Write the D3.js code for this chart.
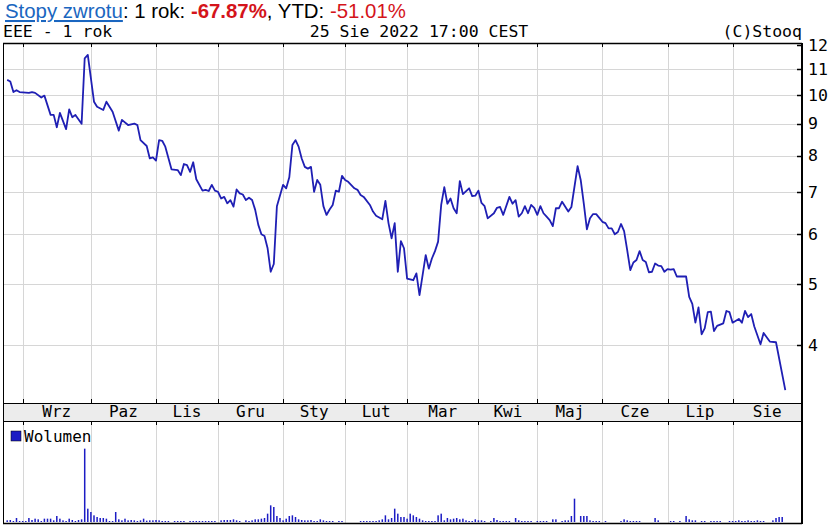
<!DOCTYPE html>
<html>
<head>
<meta charset="utf-8">
<script src="https://cdn.jsdelivr.net/npm/d3@7"></script>
<style>
  body { margin: 0; background: #fff; }
  .mono { font-family: "DejaVu Sans Mono", monospace; }
  .grid { stroke: #d6d6d6; stroke-width: 1; }
  .frame { stroke: #000; fill: none; }
</style>
</head>
<body>
<div id="chart"></div>
<script>
// trading-day index (0 = 25 Aug 2021 ... 251 = 25 Aug 2022) and close price
const priceDays = [0,1,2,3,4,7,8,9,11,12,14,15,16,17,19,20,21,22,24,25,26,28,29,31,32,34,36,37,39,41,42,43,45,46,47,48,49,50,51,53,55,56,57,58,59,60,61,63,64,65,66,67,68,69,70,71,72,73,74,75,76,77,78,79,80,81,82,83,84,85,86,87,89,90,91,92,93,94,95,96,97,98,99,100,101,102,103,104,105,106,107,108,109,110,112,113,114,115,117,118,119,121,122,123,124,125,126,127,128,129,131,132,133,135,136,137,138,139,140,141,142,143,144,145,146,147,149,150,151,152,153,154,155,157,158,159,160,162,163,164,165,166,167,168,169,170,171,172,173,174,175,176,177,178,179,181,182,184,185,186,187,188,189,190,191,192,193,194,195,196,197,198,199,200,201,202,203,204,205,206,207,208,209,210,211,212,213,214,215,216,218,219,220,221,222,223,224,225,226,227,228,229,231,232,233,234,236,237,238,239,240,241,243,244,246,248,251];
const priceCloses = [10.56,10.5,10.1,10.17,10.1,10.07,10.1,10.07,9.9,9.97,9.29,9.29,8.88,9.36,8.82,9.48,9.21,9.29,8.99,11.43,11.57,9.75,9.57,9.46,9.75,9.4,8.77,9.12,8.95,9.0,8.95,8.47,8.29,7.92,7.95,7.86,8.47,8.45,8.27,7.61,7.59,7.45,7.76,7.73,7.54,7.81,7.34,7.04,7.06,7.03,7.19,7.04,7.01,6.84,6.88,6.72,6.8,6.64,7.07,6.97,6.94,6.8,6.86,6.8,6.56,6.21,6.0,5.96,5.7,5.23,5.38,6.65,7.19,7.1,7.39,8.32,8.47,8.27,7.92,7.68,7.63,7.68,7.01,7.32,7.19,6.65,6.44,6.57,6.68,7.04,7.01,7.43,7.32,7.27,7.1,7.06,6.93,6.88,6.68,6.52,6.42,6.34,6.78,6.25,5.91,6.25,5.23,5.85,5.7,5.1,5.07,5.2,4.8,5.56,5.29,5.49,5.64,5.84,6.68,7.13,6.71,6.84,6.6,6.48,7.29,6.95,7.1,6.9,6.91,7.04,6.73,6.65,6.36,6.48,6.61,6.63,6.44,6.88,6.71,6.8,6.4,6.48,6.65,6.48,6.68,6.61,6.44,6.65,6.48,6.4,6.32,6.18,6.6,6.6,6.76,6.52,6.63,7.7,7.32,6.71,6.11,6.36,6.46,6.46,6.37,6.28,6.25,6.13,6.13,6.0,6.05,6.23,6.07,5.66,5.26,5.41,5.46,5.64,5.46,5.42,5.22,5.23,5.39,5.35,5.34,5.23,5.28,5.27,5.28,5.14,5.14,5.14,4.77,4.65,4.34,4.59,4.16,4.25,4.51,4.52,4.21,4.29,4.33,4.53,4.51,4.34,4.4,4.34,4.53,4.43,4.48,4.28,4.01,4.18,4.05,4.04,3.39];
// daily volume, one value per trading day (relative units)
const volumes = [5,6,3,12,3,3,3,12,6,10,8,3,10,10,10,5,18,10,5,3,10,6,3,6,8,
  220,40,30,20,15,12,12,10,3,3,30,8,5,10,5,6,5,3,5,10,4,5,5,6,5,3,
  3,3,0,3,3,3,3,0,3,3,3,3,3,3,3,3,3,0,5,6,6,6,8,5,3,
  0,5,3,5,8,8,10,12,25,50,45,18,12,5,10,18,20,15,8,6,5,5,6,3,3,8,5,3,3,3,0,3,3,0,0,0,0,0,
  3,3,3,3,3,3,5,8,20,8,12,40,25,15,15,10,
  25,20,15,10,5,3,3,3,3,20,25,5,12,8,10,12,8,10,5,3,3,8,5,5,3,0,3,12,6,3,3,3,3,0,12,5,3,3,3,3,0,3,3,3,3,0,8,8,0,3,5,5,18,70,0,18,18,18,5,3,3,3,0,3,0,0,0,0,
  3,8,5,3,3,3,3,0,0,0,0,12,5,0,0,0,3,3,0,3,0,18,8,5,5,0,3,3,0,3,3,3,3,0,0,3,3,3,5,3,3,5,3,3,5,3,3,0,0,5,12,15,15];
const monthNames = ['Wrz','Paz','Lis','Gru','Sty','Lut','Mar','Kwi','Maj','Cze','Lip','Sie'];
const monthStartDays = [5,27,48,68,89,109,129,152,171,192,213,234];
const priceTicks = [4,5,6,7,8,9,10,11,12];

const width = 828, height = 526;
const left = 3, right = 802;
const priceTop = 43, priceBottom = 403;
const bandBottom = 421;
const volTop = 421, volBottom = 523;

const svg = d3.select('#chart').append('svg')
  .attr('width', width)
  .attr('height', height);

const x = d3.scaleLinear().domain([0, 251]).range([7.2, 785.3]);
const y = d3.scaleLog().domain([3.234, 12]).range([priceBottom, 45]);
const yVol = d3.scaleLinear().domain([0, 300]).range([volBottom - 1, volBottom - 101]);

// header line with returns
const head = svg.append('text')
  .attr('x', 5).attr('y', 18)
  .attr('font-family', 'Liberation Sans, Arial, sans-serif')
  .attr('font-size', 20.4);
head.append('tspan').attr('fill', '#1a66c0').attr('text-decoration', 'underline').text('Stopy zwrotu');
head.append('tspan').attr('fill', '#000').text(': 1 rok: ');
head.append('tspan').attr('fill', '#d4141b').attr('font-weight', 'bold').text('-67.87%');
head.append('tspan').attr('fill', '#000').text(', YTD: ');
head.append('tspan').attr('fill', '#d4141b').text('-51.01%');

// second header line
svg.append('text').attr('class', 'mono').attr('x', 3).attr('y', 37)
  .attr('font-size', 16.5).text('EEE - 1 rok');
svg.append('text').attr('class', 'mono').attr('x', 419).attr('y', 37)
  .attr('font-size', 16.5).attr('text-anchor', 'middle').text('25 Sie 2022 17:00 CEST');
svg.append('text').attr('class', 'mono').attr('x', 802).attr('y', 37)
  .attr('font-size', 16.5).attr('text-anchor', 'end').text('(C)Stooq');

// grid lines
svg.append('g').selectAll('line').data(priceTicks.filter(d => d < 12)).enter()
  .append('line').attr('class', 'grid')
  .attr('x1', left).attr('x2', right)
  .attr('y1', d => Math.round(y(d)) + 0.5).attr('y2', d => Math.round(y(d)) + 0.5);

svg.append('g').selectAll('line').data(monthStartDays).enter()
  .append('line').attr('class', 'grid')
  .attr('x1', d => Math.round(x(d)) + 0.5).attr('x2', d => Math.round(x(d)) + 0.5)
  .attr('y1', priceTop).attr('y2', priceBottom);

svg.append('g').selectAll('line').data(monthStartDays).enter()
  .append('line').attr('class', 'grid')
  .attr('x1', d => Math.round(x(d)) + 0.5).attr('x2', d => Math.round(x(d)) + 0.5)
  .attr('y1', volTop).attr('y2', volBottom);

// price line
const line = d3.line()
  .x((d, i) => x(priceDays[i]))
  .y(d => y(d));
svg.append('path').datum(priceCloses)
  .attr('fill', 'none')
  .attr('stroke', '#1f1fb4')
  .attr('stroke-width', 1.8)
  .attr('stroke-linejoin', 'round')
  .attr('d', line);

// volume bars
svg.append('g').selectAll('rect').data(volumes).enter()
  .append('rect')
  .attr('x', (d, i) => x(i) - 0.75)
  .attr('width', 1.5)
  .attr('y', d => yVol(d))
  .attr('height', d => yVol(0) - yVol(d))
  .attr('fill', '#1c1cc4');

// month band
svg.append('rect')
  .attr('x', left).attr('y', priceBottom)
  .attr('width', right - left).attr('height', bandBottom - priceBottom)
  .attr('fill', '#ececec');

svg.append('g').selectAll('text').data(monthNames).enter()
  .append('text').attr('class', 'mono')
  .attr('font-size', 16)
  .attr('text-anchor', 'middle')
  .attr('x', (d, i) => {
    let a = x(monthStartDays[i]);
    let b = i < monthStartDays.length - 1 ? x(monthStartDays[i + 1]) : right;
    return (a + b) / 2;
  })
  .attr('y', bandBottom - 4)
  .text(d => d);

// frames
function hline(x1, x2, yy, w) {
  svg.append('line').attr('class', 'frame')
    .attr('x1', x1).attr('x2', x2).attr('y1', yy).attr('y2', yy)
    .attr('stroke-width', w || 1);
}
function vline(xx, y1, y2, w) {
  svg.append('line').attr('class', 'frame')
    .attr('x1', xx).attr('x2', xx).attr('y1', y1).attr('y2', y2)
    .attr('stroke-width', w || 1);
}
hline(left, right, priceTop + 0.5, 1.5);
hline(left, right, priceBottom + 0.5);
hline(left, right, bandBottom + 0.5);
hline(left, right, volBottom + 0.5, 1.5);
vline(left + 0.5, priceTop, volBottom);
vline(right, priceTop, volBottom + 1, 2);

// month ticks on panel edges
monthStartDays.forEach(d => {
  let xx = Math.round(x(d)) + 0.5;
  vline(xx, priceTop, priceTop + 4);
  vline(xx, priceBottom - 4, priceBottom);
  vline(xx, bandBottom, bandBottom + 4);
});

// right price axis
const yAxis = d3.axisRight(y)
  .tickValues(priceTicks)
  .tickFormat(d3.format('d'))
  .tickSize(0)
  .tickPadding(6);
const ya = svg.append('g')
  .attr('transform', 'translate(' + right + ',0)')
  .call(yAxis);
ya.select('.domain').remove();
ya.selectAll('text')
  .attr('class', 'mono')
  .attr('font-size', 16.5)
  .attr('fill', '#000');
priceTicks.forEach(d => {
  let yy = Math.round(y(d)) + 0.5;
  hline(right - 5, right, yy, 1.5);
});

// volume legend
svg.append('rect').attr('x', 11).attr('y', 431).attr('width', 10).attr('height', 10)
  .attr('fill', '#1c1cc4').attr('stroke', '#000').attr('stroke-width', 0.5);
svg.append('text').attr('class', 'mono').attr('x', 24).attr('y', 442)
  .attr('font-size', 16).text('Wolumen');
</script>
</body>
</html>
